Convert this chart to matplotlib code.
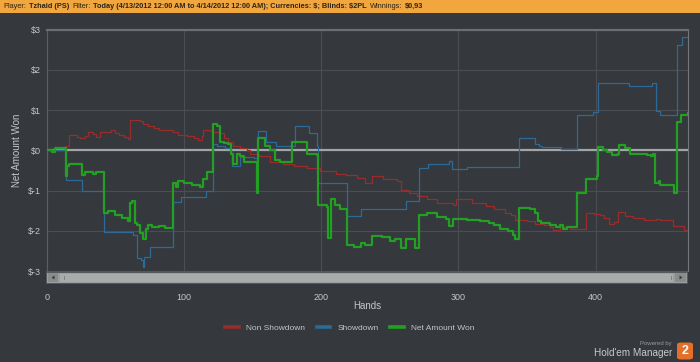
import matplotlib
matplotlib.use("Agg")
from matplotlib import pyplot as plt
from matplotlib.patches import Rectangle, FancyBboxPatch, Polygon

W, H = 700, 362

# cumulative results, value from that hand onwards
net_hands = [0, 4, 6, 10, 14, 15, 16, 26, 28, 34, 36, 42, 45, 50, 55, 59, 61, 62, 64, 66,
             68, 70, 72, 74, 77, 82, 86, 92, 94, 96, 100, 106, 112, 114, 117, 121, 124, 126,
             129, 132, 134, 136, 139, 141, 144, 153, 154, 159, 163, 166, 170, 179, 186, 190,
             197, 198, 204, 205, 207, 210, 214, 219, 224, 229, 232, 237, 244, 250, 254, 258,
             262, 268, 271, 277, 284, 291, 293, 296, 306, 316, 322, 326, 330, 336, 340, 341,
             344, 352, 356, 358, 360, 367, 371, 374, 376, 379, 386, 391, 393, 397, 401, 402,
             405, 408, 412, 416, 417, 421, 425, 437, 440, 442, 443, 446, 447, 456, 457, 459,
             462, 467]
net_won = [0.0, -0.05, 0.07, 0.05, -0.65, -0.4, -0.35, -0.62, -0.55, -0.58, -0.55, -1.55,
           -1.5, -1.6, -1.68, -1.76, -1.3, -1.25, -1.8, -1.85, -2.05, -2.2, -1.95, -1.85,
           -1.9, -1.88, -1.92, -0.8, -0.9, -0.75, -0.8, -0.85, -0.9, -0.7, -0.55, 0.65, 0.6,
           0.22, 0.18, 0.15, -0.1, -0.35, -0.1, -0.15, -0.3, -1.05, 0.3, 0.1, 0.0, -0.25,
           -0.3, 0.22, 0.2, -0.08, -0.12, -1.35, -1.4, -2.17, -1.2, -1.35, -1.45, -2.35,
           -2.4, -2.3, -2.35, -2.13, -2.15, -2.25, -2.2, -2.42, -2.2, -2.42, -1.6, -1.55,
           -1.65, -1.7, -1.88, -1.7, -1.72, -1.75, -1.8, -1.85, -1.95, -2.0, -2.1, -2.2,
           -1.43, -1.45, -1.55, -1.75, -1.8, -1.85, -1.9, -1.85, -1.95, -1.9, -1.06, -1.05,
           -0.72, -0.7, -0.65, 0.08, 0.0, -0.05, -0.12, -0.1, 0.14, 0.05, -0.1, -0.12, -0.15,
           -0.1, -0.8, -0.75, -0.85, -0.85, -1.05, 0.7, 0.88, 0.93]

sd_hands = [0, 14, 26, 42, 63, 66, 69, 70, 71, 75, 92, 98, 116, 121, 124, 130, 134, 135,
            141, 151, 154, 160, 167, 181, 191, 197, 198, 217, 219, 229, 262, 271, 278, 293,
            295, 306, 344, 356, 359, 361, 375, 386, 398, 402, 424, 441, 444, 447, 459, 463,
            467]
sd_won = [0.0, -0.73, -1.0, -2.03, -2.1, -2.67, -2.72, -2.9, -2.65, -2.4, -1.29, -1.17,
          -1.0, 0.17, 0.1, 0.07, -0.07, -0.38, -0.16, -0.2, 0.47, 0.22, 0.1, 0.6, 0.43, 0.1,
          -0.81, -0.81, -1.64, -1.47, -1.27, -0.44, -0.34, -0.27, -0.46, -0.42, 0.31, 0.17,
          0.12, 0.08, 0.03, 0.87, 0.95, 1.67, 1.6, 1.67, 0.99, 0.89, 2.62, 2.81, 2.81]

nsd_hands = [0, 13, 16, 22, 24, 28, 30, 34, 36, 39, 47, 50, 53, 56, 59, 61, 68, 70, 74, 78,
             82, 92, 96, 102, 107, 110, 113, 114, 119, 121, 126, 129, 132, 136, 141, 146, 148,
             155, 163, 172, 180, 190, 199, 211, 218, 226, 232, 237, 245, 255, 258, 264, 270,
             277, 284, 296, 298, 310, 320, 326, 334, 338, 341, 350, 356, 362, 367, 369, 374,
             381, 393, 399, 403, 406, 410, 413, 416, 421, 427, 435, 444, 447, 456, 464, 467]
nsd_won = [0.0, 0.1, 0.37, 0.33, 0.3, 0.35, 0.45, 0.4, 0.33, 0.45, 0.51, 0.42, 0.38, 0.33,
           0.27, 0.76, 0.72, 0.66, 0.6, 0.55, 0.51, 0.45, 0.39, 0.35, 0.3, 0.25, 0.35, 0.51,
           0.48, 0.45, 0.42, 0.3, 0.2, 0.1, 0.05, 0.0, -0.1, -0.15, -0.3, -0.35, -0.38, -0.45,
           -0.52, -0.58, -0.62, -0.69, -0.81, -0.65, -0.7, -0.77, -0.98, -1.05, -1.14, -1.22,
           -1.3, -1.36, -1.22, -1.3, -1.39, -1.47, -1.55, -1.6, -1.72, -1.75, -1.82, -1.86,
           -1.9, -1.97, -1.9, -1.95, -1.56, -1.58, -1.6, -1.68, -1.84, -1.78, -1.54, -1.64,
           -1.68, -1.74, -1.71, -1.74, -1.88, -1.97, -1.95]

x_ticks = [0, 100, 200, 300, 400]
y_ticks = [-3, -2, -1, 0, 1, 2, 3]
y_tick_labels = ["$-3", "$-2", "$-1", "$0", "$1", "$2", "$3"]

header = [("Player:", "normal"), ("Tzhaid (PS)", "bold"), ("Filter:", "normal"),
          ("Today (4/13/2012 12:00 AM to 4/14/2012 12:00 AM); Currencies: $; Blinds: $2PL", "bold"),
          ("Winnings:", "normal"), ("$0,93", "bold")]

BG = "#35383c"
TXT = "#c4c6c8"
RED = "#9a2c2c"
BLUE = "#2b6a99"
GREEN = "#23a024"
NARROW = ["Liberation Sans Narrow", "Liberation Sans", "DejaVu Sans"]


def fx(px):
    return px / W


def fy(py):
    return 1 - py / H


def main():
    plt.rcParams["font.family"] = ["Liberation Sans", "DejaVu Sans"]
    fig = plt.figure(figsize=(W / 100, H / 100), dpi=100, facecolor=BG)

    # orange filter bar
    fig.patches.append(Rectangle((0, fy(13)), 1, 13 / H, transform=fig.transFigure,
                                 facecolor="#f2a63e", edgecolor="none"))
    renderer = fig.canvas.get_renderer()
    x = 3
    for s, weight in header:
        t = fig.text(fx(x), fy(6.5), s, fontsize=5.3, fontweight=weight, family=NARROW,
                     color="#2b2418", ha="left", va="center", parse_math=False)
        x = t.get_window_extent(renderer).x1 + 3

    ax = fig.add_axes([fx(46.7), fy(271), fx(687.7) - fx(46.7), fy(29.7) - fy(271)])
    ax.set_facecolor(BG)
    ax.set_xlim(0, 467)
    ax.set_ylim(-3, 3)
    ax.grid(True, color="#4a4d51", lw=0.8)
    ax.set_axisbelow(True)
    ax.axhline(0, color="#a2a4a6", lw=1.6, zorder=1.5)

    ax.step(nsd_hands, nsd_won, where="post", color=RED, lw=0.9, zorder=3)
    ax.step(sd_hands, sd_won, where="post", color=BLUE, lw=0.9, zorder=3)
    ax.step(net_hands, net_won, where="post", color=GREEN, lw=1.6, zorder=4)

    ax.set_xticks(x_ticks)
    ax.set_yticks(y_ticks)
    ax.set_yticklabels(y_tick_labels)
    ax.tick_params(length=0, labelsize=6.5, labelcolor=TXT)
    ax.tick_params(axis="x", pad=15.5)
    ax.tick_params(axis="y", pad=4)
    ax.spines["bottom"].set_visible(False)
    ax.spines["top"].set_color("#6c6f72")
    ax.spines["top"].set_linewidth(1.6)
    ax.spines["left"].set_color("#5c5f62")
    ax.spines["right"].set_color("#74777a")

    # scrollbar under the plot
    def box(x0, y0, x1, y1, color):
        fig.patches.append(Rectangle((fx(x0), fy(y1)), fx(x1) - fx(x0), fy(y0) - fy(y1),
                                     transform=fig.transFigure, facecolor=color,
                                     edgecolor="none"))
    box(46, 271, 688, 284, "#56595c")
    box(47, 272.5, 687, 282.5, "#9b9d9f")
    box(48, 273, 58, 282, "#8a8c8e")
    box(60, 273.5, 673, 282, "#a9abad")
    box(675, 273, 686, 282, "#8a8c8e")
    fig.patches.append(Polygon([(fx(51.5), fy(277.5)), (fx(54.5), fy(275.5)), (fx(54.5), fy(279.5))],
                               closed=True, transform=fig.transFigure, facecolor="#3a3c3e"))
    fig.patches.append(Polygon([(fx(682.5), fy(277.5)), (fx(679.5), fy(275.5)), (fx(679.5), fy(279.5))],
                               closed=True, transform=fig.transFigure, facecolor="#3a3c3e"))
    for gx in [62.5, 64, 669.5, 671]:
        box(gx, 275.5, gx + 0.6, 280, "#7e8082")

    fig.text(fx(17), fy(150), "Net Amount Won", rotation=90, fontsize=7, color=TXT,
             ha="center", va="center")
    fig.text(fx(367), fy(306), "Hands", fontsize=7, color=TXT, ha="center", va="center")

    handles = [plt.Line2D([], [], color=c, lw=2.6) for c in (RED, BLUE, GREEN)]
    fig.legend(handles, ["Non Showdown", "Showdown", "Net Amount Won"], loc="center",
               bbox_to_anchor=(fx(350), fy(328)), ncol=3, frameon=False, fontsize=6,
               labelcolor=TXT, handlelength=1.6, handletextpad=0.9, columnspacing=1.4)

    # logo
    fig.text(fx(672), fy(344), "Powered by", fontsize=4.3, color="#9a9c9e", ha="right", va="center")
    fig.text(fx(672), fy(352.5), "Hold'em Manager", fontsize=7.2, color="#c8cacc",
             ha="right", va="center")
    fig.patches.append(FancyBboxPatch((fx(677), fy(359.5)), fx(16), 17 / H,
                                      boxstyle="round,pad=0,rounding_size=0.006",
                                      transform=fig.transFigure, facecolor="#e2702a",
                                      edgecolor="none"))
    fig.text(fx(685), fy(351), "2", fontsize=9, fontweight="bold", color="white",
             ha="center", va="center")

    fig.savefig("out.png", dpi=100, facecolor=BG)


if __name__ == "__main__": main()
